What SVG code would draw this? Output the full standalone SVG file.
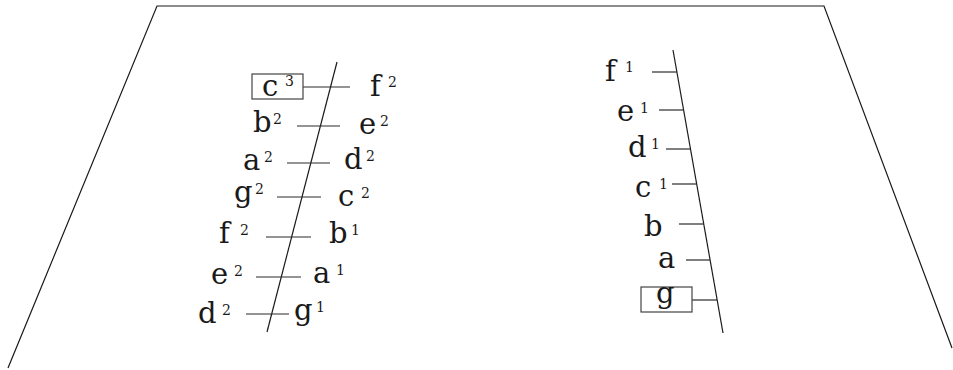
<svg xmlns="http://www.w3.org/2000/svg" width="953" height="370" viewBox="0 0 953 370">
<style>
.ln{stroke:#1a1a1a;stroke-width:1.2;fill:none}
.tk{stroke:#2a2a2a;stroke-width:1.2}
.bx{fill:#fff;stroke:#444;stroke-width:1.2}
.n{font-family:"DejaVu Serif","Liberation Serif",serif;font-size:29px;fill:#1a1a1a}
.s{font-size:14px}
</style>
<rect width="953" height="370" fill="#fff"/>
<g id="frame"><path class="ln" d="M8,368 L157,6 L824,6 L952,348"/></g>
<g id="connectors">
<line class="ln" x1="337" y1="62" x2="267" y2="332"/>
<line class="ln" x1="673" y1="50" x2="723" y2="333"/>
<line class="tk" x1="303" y1="87" x2="350" y2="87"/>
<line class="tk" x1="297" y1="126" x2="340" y2="126"/>
<line class="tk" x1="287" y1="163" x2="330" y2="163"/>
<line class="tk" x1="277" y1="197" x2="321" y2="197"/>
<line class="tk" x1="266" y1="237" x2="311" y2="237"/>
<line class="tk" x1="256" y1="277" x2="301" y2="277"/>
<line class="tk" x1="246" y1="314" x2="289" y2="314"/>
<line class="tk" x1="652" y1="72" x2="677" y2="72"/>
<line class="tk" x1="659" y1="110" x2="684" y2="110"/>
<line class="tk" x1="666" y1="149" x2="690" y2="149"/>
<line class="tk" x1="672" y1="184" x2="697" y2="184"/>
<line class="tk" x1="679" y1="224" x2="704" y2="224"/>
<line class="tk" x1="686" y1="260" x2="710" y2="260"/>
<line class="tk" x1="692" y1="300" x2="717" y2="300"/>
</g>
<g id="c3"><rect class="bx" x="252" y="74" width="51" height="25"/><text class="n" x="262" y="96">c<tspan class="s" x="285" y="86">3</tspan></text></g>
<g id="f2r"><text class="n" x="370" y="96">f<tspan class="s" x="388" y="87">2</tspan></text></g>
<g id="b2"><text class="n" x="253" y="132">b<tspan class="s" x="273" y="124">2</tspan></text></g>
<g id="e2r"><text class="n" x="359" y="134">e<tspan class="s" x="380" y="126">2</tspan></text></g>
<g id="a2"><text class="n" x="243" y="170">a<tspan class="s" x="264" y="162">2</tspan></text></g>
<g id="d2r"><text class="n" x="344" y="169">d<tspan class="s" x="366" y="161">2</tspan></text></g>
<g id="g2"><text class="n" x="234" y="202">g<tspan class="s" x="255" y="194">2</tspan></text></g>
<g id="c2"><text class="n" x="338" y="206">c<tspan class="s" x="361" y="198">2</tspan></text></g>
<g id="f2l"><text class="n" x="219" y="243">f<tspan class="s" x="240" y="235">2</tspan></text></g>
<g id="b1"><text class="n" x="329" y="243">b<tspan class="s" x="351" y="235">1</tspan></text></g>
<g id="e2l"><text class="n" x="211" y="284">e<tspan class="s" x="234" y="276">2</tspan></text></g>
<g id="a1"><text class="n" x="313" y="283">a<tspan class="s" x="336" y="275">1</tspan></text></g>
<g id="d2l"><text class="n" x="198" y="323">d<tspan class="s" x="222" y="315">2</tspan></text></g>
<g id="g1"><text class="n" x="294" y="320">g<tspan class="s" x="316" y="312">1</tspan></text></g>
<g id="f1"><text class="n" x="605" y="81">f<tspan class="s" x="625" y="72">1</tspan></text></g>
<g id="e1"><text class="n" x="617" y="121">e<tspan class="s" x="640" y="113">1</tspan></text></g>
<g id="d1"><text class="n" x="628" y="157">d<tspan class="s" x="651" y="149">1</tspan></text></g>
<g id="c1"><text class="n" x="635" y="197">c<tspan class="s" x="659" y="189">1</tspan></text></g>
<g id="b"><text class="n" x="644" y="236">b</text></g>
<g id="a"><text class="n" x="658" y="268">a</text></g>
<g id="g"><rect class="bx" x="641" y="287" width="51" height="25"/><text class="n" x="656" y="303">g</text></g>
</svg>
